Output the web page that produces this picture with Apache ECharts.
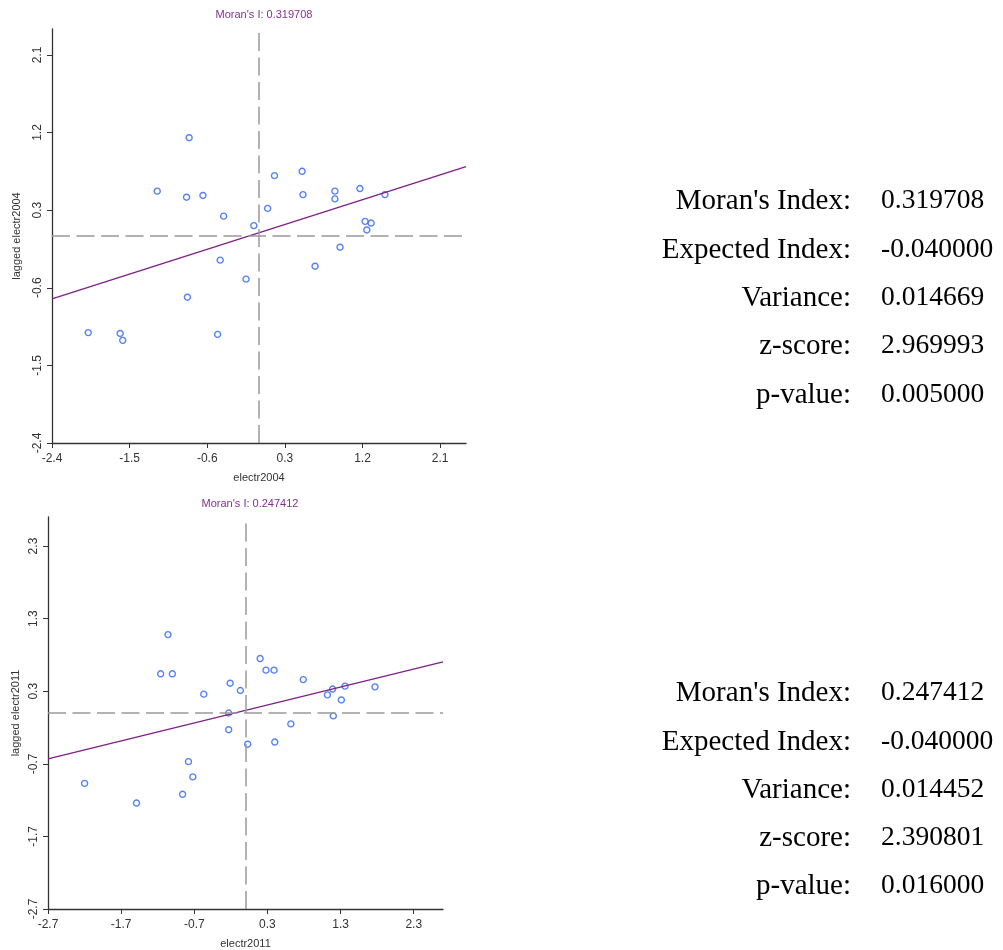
<!DOCTYPE html>
<html>
<head>
<meta charset="utf-8">
<style>
  html, body { margin: 0; padding: 0; background: #ffffff; }
  #chart { width: 1003px; height: 950px; }
</style>
<script src="https://cdn.jsdelivr.net/npm/echarts@6.0.0/dist/echarts.min.js"></script>
</head>
<body>
<div id="chart"></div>
<script>
// Standardised electricity values and their spatial lags, 26 units
const x2004 = [-1.18, -0.81, -0.84, -0.65, -0.41, -0.06, 0.10, 0.18, 0.50, 0.51, 0.88, 0.88, 1.17,
               1.46, 1.23, 1.30, 1.25, 0.94, -0.45, -0.15, -0.83, 0.65, -1.98, -1.61, -1.58, -0.48];
const lag2004 = [0.52, 1.14, 0.45, 0.47, 0.23, 0.12, 0.32, 0.70, 0.75, 0.48, 0.52, 0.43, 0.55,
                 0.48, 0.17, 0.15, 0.07, -0.13, -0.28, -0.50, -0.71, -0.35, -1.12, -1.13, -1.21, -1.14];

const x2011 = [-1.06, -1.16, -1.00, -0.57, -0.21, -0.07, 0.20, 0.28, 0.39, 0.79, 1.12, 1.19, 1.36,
               1.31, 1.77, -0.23, -0.23, 0.03, 0.40, 0.62, 1.20, -0.78, -0.72, -2.20, -0.86, -1.49];
const lag2011 = [1.08, 0.54, 0.54, 0.26, 0.41, 0.31, 0.75, 0.59, 0.59, 0.46, 0.25, 0.33, 0.37,
                 0.18, 0.36, 0.00, -0.23, -0.43, -0.40, -0.15, -0.04, -0.67, -0.88, -0.97, -1.12, -1.24];

// Axis ticks and limits
const ticks2004 = [-2.4, -1.5, -0.6, 0.3, 1.2, 2.1];
const ticks2011 = [-2.7, -1.7, -0.7, 0.3, 1.3, 2.3];
const limit2004 = 2.4;
const limit2011 = 2.7;

// Moran's I statistics (the index is the slope of the fitted line)
const statLabels = ["Moran's Index:", 'Expected Index:', 'Variance:', 'z-score:', 'p-value:'];
const stats2004 = [0.319708, -0.040000, 0.014669, 2.969993, 0.005000];
const stats2011 = [0.247412, -0.040000, 0.014452, 2.390801, 0.016000];
const intercepts = [0.037, 0.036];

const grids = [
  { left: 52, top: 29, width: 414, height: 414 },
  { left: 48, top: 517, width: 395, height: 396 }
];

const sansFont = 'Arial, "Liberation Sans", sans-serif';
const serifFont = '"Times New Roman", "Liberation Serif", serif';
const axisColor = '#333333';
const pointColor = '#2a62f5';
const lineColor = '#7f1f86';

function pairs(xs, ys) {
  return xs.map((v, i) => [v, ys[i]]);
}

function makeAxis(gridIndex, ticks, lim, name, isY, nameGap) {
  return {
    type: 'value',
    gridIndex: gridIndex,
    min: -lim,
    max: lim,
    name: name,
    nameLocation: 'middle',
    nameGap: nameGap,
    nameTextStyle: { fontFamily: sansFont, fontSize: 11, color: axisColor },
    axisLine: { show: true, onZero: false, lineStyle: { color: axisColor, width: 1.3 } },
    axisTick: { show: true, length: 5, customValues: ticks, lineStyle: { color: axisColor, width: 1 } },
    axisLabel: {
      customValues: ticks,
      rotate: isY ? 90 : 0,
      margin: isY ? 8 : 10,
      fontFamily: sansFont,
      fontSize: 12,
      color: axisColor,
      formatter: v => v.toFixed(1)
    },
    splitLine: { show: false }
  };
}

function scatterSeries(idx, xs, ys) {
  return {
    type: 'scatter',
    xAxisIndex: idx,
    yAxisIndex: idx,
    data: pairs(xs, ys),
    symbol: 'circle',
    symbolSize: 6,
    itemStyle: { color: 'rgba(255,255,255,0)', borderColor: pointColor, borderWidth: 1.4 },
    silent: true,
    markLine: {
      silent: true,
      symbol: 'none',
      label: { show: false },
      lineStyle: { color: '#999999', type: [18, 6.5], width: 1.5 },
      data: [{ xAxis: 0 }, { yAxis: 0 }]
    },
    z: 3
  };
}

function fitSeries(idx, slope, intercept, lim) {
  return {
    type: 'line',
    xAxisIndex: idx,
    yAxisIndex: idx,
    data: [[-lim, intercept - slope * lim], [lim, intercept + slope * lim]],
    showSymbol: false,
    symbol: 'none',
    silent: true,
    lineStyle: { color: lineColor, width: 1.3 },
    z: 4
  };
}

function statTexts(stats, centerYs) {
  const out = [];
  statLabels.forEach((lab, i) => {
    out.push({
      type: 'text',
      style: {
        text: lab, x: 851, y: centerYs[i],
        font: '29px ' + serifFont, fill: '#000000',
        textAlign: 'right', textVerticalAlign: 'middle'
      }
    });
    out.push({
      type: 'text',
      style: {
        text: stats[i].toFixed(6), x: 881, y: centerYs[i],
        font: '27.5px ' + serifFont, fill: '#000000',
        textAlign: 'left', textVerticalAlign: 'middle'
      }
    });
  });
  return out;
}

const chart = echarts.init(document.getElementById('chart'), null, { renderer: 'canvas' });

chart.setOption({
  animation: false,
  backgroundColor: '#ffffff',
  title: [
    {
      text: "Moran's I: " + stats2004[0].toFixed(6),
      left: 259, top: 4, textAlign: 'center',
      textStyle: { fontFamily: sansFont, fontSize: 11, fontWeight: 'normal', color: '#84308f' }
    },
    {
      text: "Moran's I: " + stats2011[0].toFixed(6),
      left: 245, top: 493, textAlign: 'center',
      textStyle: { fontFamily: sansFont, fontSize: 11, fontWeight: 'normal', color: '#84308f' }
    }
  ],
  grid: grids,
  xAxis: [
    makeAxis(0, ticks2004, limit2004, 'electr2004', false, 29),
    makeAxis(1, ticks2011, limit2011, 'electr2011', false, 29)
  ],
  yAxis: [
    makeAxis(0, ticks2004, limit2004, 'lagged electr2004', true, 30),
    makeAxis(1, ticks2011, limit2011, 'lagged electr2011', true, 27)
  ],
  series: [
    scatterSeries(0, x2004, lag2004),
    fitSeries(0, stats2004[0], intercepts[0], limit2004),
    scatterSeries(1, x2011, lag2011),
    fitSeries(1, stats2011[0], intercepts[1], limit2011)
  ],
  graphic: [
    ...statTexts(stats2004, [201, 250, 298, 346, 395]),
    ...statTexts(stats2011, [693, 742, 790, 838, 886])
  ]
});
</script>
</body>
</html>
